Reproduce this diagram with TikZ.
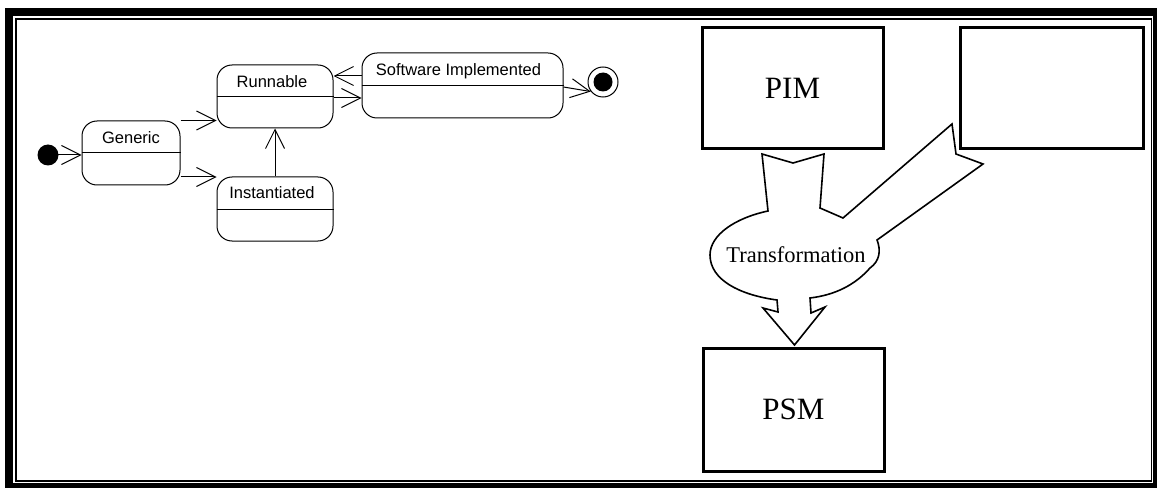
\documentclass[tikz,border=0pt]{standalone}
\usepackage{fontspec}
\setmainfont{Liberation Serif}
\newfontfamily\statefont{Liberation Sans}
\usetikzlibrary{arrows.meta}
\begin{document}
\begin{tikzpicture}[x=1pt,y=-1pt,
  state/.style={draw,line width=1pt,rounded corners=15pt,inner sep=0pt},
  statename/.style={font=\statefont\fontsize{16.5}{19}\selectfont,inner sep=0pt},
  trans/.style={line width=1pt,-{Straight Barb[length=19pt,width=19pt,line width=1pt]}},
  model/.style={draw,line width=3pt,inner sep=0pt,font=\fontsize{31}{36}\selectfont},
]
\useasboundingbox (0,0) rectangle (1158,489);

% double frame
\fill[black] (5,8) rectangle (1157,488);
\fill[white] (13,16) rectangle (1153,483);
\draw[line width=1.5pt] (16,19) rectangle (1151.5,481);

% ---------- state machine ----------
\fill (48,155) circle (10.5) coordinate (init);
\node[state,minimum width=98pt,minimum height=64pt] (generic) at (131,153) {};
\node[state,minimum width=116pt,minimum height=63pt] (runnable) at (275,96.5) {};
\node[state,minimum width=116pt,minimum height=64pt] (inst) at (275,209) {};
\node[state,minimum width=201pt,minimum height=65pt] (soft) at (462.5,85.5) {};
\node[circle,draw,line width=1pt,minimum size=30pt,inner sep=0pt] (final) at (603,82) {};
\fill (final.center) circle (9.5);

\foreach \s in {generic,runnable,inst,soft}{
  \draw[line width=1pt] (\s.west) -- (\s.east);
}
\node[statename] at ([yshift=15pt]generic.center) {Generic};
\node[statename] at ([xshift=-3pt,yshift=14.5pt]runnable.center) {Runnable};
\node[statename] at ([xshift=-3pt,yshift=16pt]inst.center) {Instantiated};
\node[statename] at ([xshift=-4pt,yshift=14.5pt]soft.center) {Software Implemented};

\draw[trans] (init) -- (generic.west |- init);
\draw[trans] (generic.north east) -- (runnable.west |- generic.north east);
\draw[trans] ([yshift=-24pt]generic.east) -- ([yshift=-24pt]generic.east -| inst.west);
\draw[trans] (inst.north) -- (runnable.south);
\draw[trans] (soft.west |- 0,76) -- (runnable.east |- 0,76);
\draw[trans] (runnable.east |- 0,98) -- (soft.west |- 0,98);
\draw[trans] ([yshift=-1.5pt]soft.east) -- (final.218);

% ---------- model transformation ----------
\node[model,minimum width=181pt,minimum height=121pt] (pim) at (792.5,88.5) {PIM};
\node[model,minimum width=183pt,minimum height=121pt] (pdm) at (1051.5,88.5) {};
\node[model,minimum width=181pt,minimum height=123pt] (psm) at (793.5,409.5) {PSM};

% merging block arrow
\draw[line width=1.6pt,line join=miter,fill=white]
  (762,154) -- (793,163) -- (824,154) -- (820,208) -- (843,218)
  -- (952,124) -- (956,154) -- (983,164) -- (877,240)
  .. controls (881,250) and (880,261) .. (870,268)
  .. controls (855,285) and (835,295) .. (810,298)
  -- (811,313) -- (825,307) -- (794.5,345) -- (763,308) -- (778,312) -- (777,300)
  .. controls (740,295) and (710,280) .. (710,255)
  .. controls (710,235) and (735,218) .. (768,211) -- cycle;
\node[font=\fontsize{22.5}{26}\selectfont,inner sep=0pt] (tf) at (796,255) {Transformation};
\end{tikzpicture}
\end{document}
